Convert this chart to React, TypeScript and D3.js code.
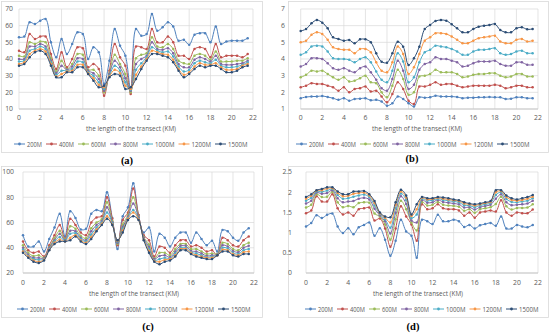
import React from 'react';
import * as d3 from 'd3';

const KM = [0,0.5,1,1.5,2,2.5,3,3.5,4,4.5,5,5.5,6,6.5,7,7.5,8,8.5,9,9.5,10,10.5,11,11.5,12,12.5,13,13.5,14,14.5,15,15.5,16,16.5,17,17.5,18,18.5,19,19.5,20,20.5,21,21.5];
const SERIES = ['200M','400M','600M','800M','1000M','1200M','1500M'];
const COLORS = ['#4F81BD','#C0504D','#9BBB59','#8064A2','#4BACC6','#F79646','#2C4D75'];
const X_TICKS = [0,2,4,6,8,10,12,14,16,18,20,22];
const A_TICKS = [10,20,30,40,50,60,70];
const B_TICKS = [1,2,3,4,5,6,7];
const C_TICKS = [20,40,60,80,100];
const D_TICKS = [0,0.5,1,1.5,2,2.5];
const X_TITLE = 'the length of the transect (KM)';

// Panel (a)
const a200 = [53,53.5,62,61,63,64,50,41,52,43,49,56,55,40,47,44,25,39,58,48,42,22,58,54,55,67,57,59,62,59.5,51,51.5,48.5,54.5,55.5,55.5,50,59.5,49,50.5,51,51,51,52.5];
const a400 = [45,44,55,52,53.5,53.5,43,34,44,35,40,47,46.5,35,37,34,18,33,49,41,36,19,47.5,47,46,58,50,50,53.5,50,42,42,40,46,47,46,41,49,41,42,42,42,41,43];
const a600 = [42,41.5,50,49,50.5,50,40.5,32.5,39,34,37,43,42.5,33.5,33.5,30,20,31.5,42.5,37,31,20,40.5,42.5,43.5,53,47.5,47,49,46,39,37.5,37,42,43,42,39.5,44.5,38.5,38.5,38.5,39,39,40.5];
const a800 = [40,40,47.5,47.5,49,47.5,39,31.5,36,33.5,35.5,40.5,40,33,31.5,28,21,31,39,35,28.5,21,37,40,42,50,46,45.5,46.5,43.5,37,35,35,39.5,41,40,38.5,42,37,36.5,36.5,37,37.5,39];
const a1000 = [38.5,39,45,46,47.5,46,38,30.5,33,33,34,38.5,38,32,30,26,22,30,36,33,26,21.5,33.5,37.5,41,47,45,44,44.5,41.5,35.5,32.5,33.5,37.5,39,38,37.5,39.5,36,35,35,35.5,36.5,38];
const a1200 = [37,38,43,45,46,44.5,37,29.5,31,32.5,33,36.5,36.5,31.5,28.5,24.5,23,29.5,33.5,31.5,24,22,30.5,35.5,40,45,44,43,42.5,39.5,34,30.5,32,35.5,37.5,36.5,36.5,37.5,35,33.5,33.5,34,36,37];
const a1500 = [36,37,41,44,45,43,36,29,29,32,32,35,35,31,27,23,24,29,31,30,22,23,28,34,39,43,43,42,41,38,33,29,31,34,36,35,36,36,34,32,32,33,35,36];

// Panel (b)
const b200 = [1.65,1.72,1.75,1.75,1.78,1.72,1.65,1.55,1.65,1.5,1.6,1.62,1.65,1.52,1.55,1.45,1.2,1.35,1.75,1.6,1.35,1.15,1.7,1.68,1.7,1.8,1.75,1.75,1.75,1.72,1.65,1.68,1.68,1.7,1.7,1.72,1.7,1.7,1.6,1.62,1.7,1.7,1.65,1.65];
const b400 = [2.3,2.4,2.55,2.5,2.5,2.4,2.3,2.1,2.3,2.0,2.2,2.25,2.35,2.05,2.1,1.75,1.4,1.9,2.6,2.2,1.5,1.3,2.35,2.35,2.45,2.6,2.45,2.5,2.5,2.4,2.3,2.35,2.4,2.4,2.4,2.4,2.45,2.4,2.25,2.3,2.4,2.4,2.3,2.3];
const b600 = [2.9,3.05,3.3,3.25,3.3,3.1,2.9,2.75,2.9,2.65,2.7,2.85,3.0,2.6,2.55,2.0,1.7,2.4,3.35,2.8,1.85,2.0,2.95,3.0,3.1,3.35,3.2,3.2,3.2,3.1,2.9,2.95,3.05,3.1,3.1,3.15,3.15,3.0,2.9,2.95,3.1,3.1,2.95,2.95];
const b800 = [3.55,3.7,4.05,4.05,4.0,3.75,3.45,3.35,3.45,3.3,3.2,3.45,3.55,3.2,2.75,2.25,2.1,2.8,3.9,3.3,2.2,2.45,3.35,3.7,3.8,4.1,4.0,4.0,3.9,3.8,3.55,3.6,3.75,3.85,3.85,3.85,3.9,3.7,3.6,3.6,3.8,3.8,3.65,3.65];
const b1000 = [4.25,4.4,4.75,4.8,4.75,4.45,4.05,4.0,4.0,3.95,3.8,4.0,4.1,3.8,3.25,2.75,2.6,3.3,4.35,3.85,2.6,2.9,3.8,4.4,4.55,4.8,4.75,4.7,4.6,4.45,4.25,4.25,4.45,4.55,4.55,4.6,4.65,4.35,4.25,4.3,4.45,4.5,4.35,4.35];
const b1200 = [5.0,5.1,5.45,5.6,5.5,5.15,4.7,4.6,4.55,4.55,4.35,4.6,4.6,4.4,3.8,3.3,3.2,3.8,4.75,4.3,3.1,3.5,4.3,5.1,5.3,5.55,5.55,5.5,5.35,5.15,4.95,4.95,5.1,5.25,5.3,5.35,5.4,5.05,4.95,4.95,5.15,5.2,5.05,5.1];
const b1500 = [5.68,5.8,6.14,6.34,6.18,5.84,5.3,5.2,5.1,5.14,4.94,5.18,5.18,5.0,4.34,3.84,3.78,4.34,5.04,4.74,3.64,4.04,4.74,5.8,6.04,6.28,6.34,6.3,6.08,5.84,5.6,5.6,5.8,5.94,6.0,6.04,6.1,5.74,5.6,5.6,5.84,5.9,5.78,5.8];

// Panel (c)
const c200 = [50,41,41,45,37,47,56,67,49,69,63.5,54.5,55,67,70,69,84,63.5,39,65,72,91,66,52,56,37,51,48,41,48,52,52,44,52,47,42,45.5,37,54,53,48,45.5,52,55.5];
const c400 = [45,38,36,37,33,42,50,58,47,63,58,52,50,60,64,65,80,63,42,62,68,87,66,50,46,33,41,40,36,42,46,46,41,42,40,37,38,34,48,46,42,41,46,49];
const c600 = [42,36,33.5,34,32,40.5,47.5,53.5,46.5,57,55,49.5,47.5,55.5,60,62.5,76,61,43,58.5,66,80,64.5,48.5,42.5,31.5,36,36,34,39,43,43,39,39,37,35,35.5,35,44,43,39,38,42,44];
const c800 = [40,34.5,32,32,31.5,40,46,51,46,53.5,53,48,46,53,58,61,72,60,44,56.5,64.5,75,64,48,40.5,31,33.5,34,32.5,37,41.5,41.5,37.5,37,35.5,33.5,34,34.5,42,41,37.5,36.5,40,41.5];
const c1000 = [38.5,33.5,31,30.5,31,39,45,48.5,45.5,51,51.5,47,45,50.5,56,60,68,59.5,45,55,63.5,70,63,47,39,30,31,32,31.5,35.5,40,40,36.5,35.5,34,32.5,33,34,40,39.5,36,35,38,39];
const c1200 = [37,33,30,29,30.5,38.5,44,46.5,45,48,50,46,44,48.5,54.5,59,65,58.5,45.5,53.5,63,68,62.5,46.5,37.5,29.5,29,30.5,31,34,39,39,36,34,33,32,32,34,38.5,38,35,34,36.5,37];
const c1500 = [36,32,29,28,30,38,43,45,45,46,49,45,43,47,53,58,63,58,46,52,62,65,62,46,36,29,27,29,30,33,38,38,35,33,32,31,31,34,37,37,34,33,35,35];

// Panel (d)
const d200 = [1.15,1.24,1.43,1.36,1.44,1.47,1.15,0.99,1.11,0.96,1.13,1.19,1.25,0.92,1.11,0.82,0.43,0.8,1.32,1.03,0.92,0.38,1.32,1.28,1.21,1.44,1.28,1.28,1.32,1.28,1.14,1.19,1.1,1.18,1.21,1.24,1.17,1.4,1.1,1.1,1.19,1.15,1.13,1.19];
const d400 = [1.48,1.55,1.9,1.77,1.77,1.95,1.6,1.45,1.5,1.42,1.58,1.6,1.62,1.3,1.35,1.1,0.65,1.1,1.65,1.4,1.2,0.8,1.7,1.58,1.6,1.7,1.6,1.58,1.58,1.55,1.42,1.5,1.37,1.5,1.52,1.55,1.52,1.8,1.5,1.42,1.5,1.48,1.48,1.57];
const d600 = [1.62,1.69,1.95,1.88,1.89,2.01,1.75,1.63,1.66,1.63,1.73,1.75,1.74,1.47,1.4,1.2,0.82,1.33,1.79,1.58,1.25,1.05,1.76,1.67,1.69,1.76,1.69,1.67,1.66,1.64,1.54,1.58,1.49,1.58,1.6,1.63,1.71,1.89,1.65,1.57,1.61,1.61,1.62,1.7];
const d800 = [1.72,1.79,1.99,1.96,1.98,2.05,1.85,1.75,1.77,1.78,1.84,1.86,1.82,1.59,1.43,1.28,0.98,1.49,1.9,1.71,1.3,1.25,1.81,1.74,1.75,1.81,1.76,1.74,1.72,1.7,1.62,1.63,1.57,1.63,1.66,1.69,1.84,1.95,1.75,1.68,1.69,1.7,1.72,1.79];
const d1000 = [1.79,1.86,2.02,2.01,2.04,2.08,1.93,1.84,1.85,1.89,1.92,1.94,1.88,1.67,1.46,1.33,1.12,1.61,1.97,1.81,1.36,1.45,1.84,1.79,1.8,1.84,1.81,1.79,1.77,1.75,1.68,1.67,1.63,1.67,1.7,1.73,1.93,2.0,1.83,1.76,1.75,1.77,1.79,1.85];
const d1200 = [1.84,1.91,2.04,2.05,2.09,2.1,1.98,1.9,1.91,1.96,1.98,1.99,1.92,1.73,1.48,1.37,1.25,1.69,2.02,1.87,1.41,1.58,1.86,1.82,1.83,1.86,1.84,1.82,1.8,1.78,1.72,1.7,1.67,1.7,1.73,1.76,2.0,2.03,1.88,1.81,1.79,1.81,1.84,1.89];
const d1500 = [1.88,1.95,2.05,2.08,2.12,2.12,2.02,1.95,1.95,2.02,2.02,2.03,1.95,1.78,1.5,1.4,1.38,1.75,2.06,1.92,1.45,1.7,1.88,1.85,1.85,1.88,1.87,1.85,1.82,1.8,1.75,1.72,1.7,1.72,1.75,1.78,2.05,2.05,1.92,1.85,1.82,1.85,1.88,1.93];

type Cfg = {
  label: string;
  series: number[][];
  ticks: number[];
  x0: number; x1: number; yt: number; yb: number;
  box: [number, number, number, number];
  yLabelX: number;
  xLabelY: number;
  titleX: number; titleY: number;
  legendX: number; legendY: number;
  tagX: number; tagY: number;
};

const PANELS: Cfg[] = [
  { label: '(a)', series: [a200, a400, a600, a800, a1000, a1200, a1500], ticks: A_TICKS,
    x0: 19, x1: 253, yt: 9, yb: 109, box: [1, 1, 262, 152], yLabelX: 13, xLabelY: 120,
    titleX: 131, titleY: 131, legendX: 14, legendY: 144, tagX: 127, tagY: 164 },
  { label: '(b)', series: [b200, b400, b600, b800, b1000, b1200, b1500], ticks: B_TICKS,
    x0: 300.7, x1: 538, yt: 9, yb: 109, box: [288, 1, 548, 152], yLabelX: 285, xLabelY: 120,
    titleX: 417, titleY: 131, legendX: 296, legendY: 144, tagX: 412, tagY: 162 },
  { label: '(c)', series: [c200, c400, c600, c800, c1000, c1200, c1500], ticks: C_TICKS,
    x0: 23, x1: 254, yt: 172, yb: 273, box: [1, 166, 262, 317], yLabelX: 14, xLabelY: 285,
    titleX: 134, titleY: 296, legendX: 17, legendY: 309, tagX: 148, tagY: 330 },
  { label: '(d)', series: [d200, d400, d600, d800, d1000, d1200, d1500], ticks: D_TICKS,
    x0: 306, x1: 538, yt: 172, yb: 273, box: [288, 166, 548, 317], yLabelX: 292, xLabelY: 285,
    titleX: 418, titleY: 296, legendX: 305, legendY: 309, tagX: 413, tagY: 330 },
];

const FONT = "'Open Sans', 'Liberation Sans', sans-serif";
const GRID = '#d9d9d9';
const TXT = '#595959';

function Panel({ cfg }: { cfg: Cfg }) {
  const domain = d3.extent(cfg.ticks) as [number, number];
  const x = d3.scaleLinear().domain([0, 22]).range([cfg.x0, cfg.x1]);
  const y = d3.scaleLinear().domain(domain).range([cfg.yb, cfg.yt]);
  const line = d3
    .line<number>()
    .x((_, i) => x(KM[i]))
    .y((v) => y(v))
    .curve(d3.curveCatmullRom.alpha(0.5));

  // legend layout
  const items: { x: number; w: number }[] = [];
  let lx = cfg.legendX;
  SERIES.forEach((s) => {
    const w = s.length === 4 ? 15 : 19.5;
    items.push({ x: lx, w });
    lx += 13 + w + 4;
  });

  const [bx0, by0, bx1, by1] = cfg.box;
  return (
    <g>
      <rect x={bx0 + 0.5} y={by0 + 0.5} width={bx1 - bx0} height={by1 - by0} fill="#fff" stroke={GRID} strokeWidth={0.8} />
      {cfg.ticks.map((t) => (
        <line key={'h' + t} x1={cfg.x0} x2={cfg.x1} y1={y(t)} y2={y(t)} stroke={GRID} strokeWidth={0.7} />
      ))}
      {X_TICKS.map((t) => (
        <line key={'v' + t} x1={x(t)} x2={x(t)} y1={cfg.yt} y2={cfg.yb} stroke={GRID} strokeWidth={0.7} />
      ))}
      <line x1={cfg.x0} x2={cfg.x1} y1={cfg.yb} y2={cfg.yb} stroke="#bfbfbf" strokeWidth={0.8} />
      {cfg.ticks.map((t) => (
        <text key={'yl' + t} x={cfg.yLabelX} y={y(t) + 2.4} fontSize={6.8} fill={TXT} textAnchor="end" fontFamily={FONT}>
          {String(t)}
        </text>
      ))}
      {X_TICKS.map((t) => (
        <text key={'xl' + t} x={x(t)} y={cfg.xLabelY} fontSize={6.8} fill={TXT} textAnchor="middle" fontFamily={FONT}>
          {String(t)}
        </text>
      ))}
      <text x={cfg.titleX} y={cfg.titleY} fontSize={7.6} fill={TXT} textAnchor="middle" fontFamily={FONT}
        textLength={90} lengthAdjust="spacingAndGlyphs">
        {X_TITLE}
      </text>
      {cfg.series.map((vals, si) => (
        <g key={'s' + si}>
          <path d={line(vals) || ''} fill="none" stroke={COLORS[si]} strokeWidth={1} />
          {vals.map((v, i) => (
            <circle key={i} cx={x(KM[i])} cy={y(v)} r={1.25} fill={COLORS[si]} />
          ))}
        </g>
      ))}
      {SERIES.map((s, si) => (
        <g key={'lg' + s}>
          <line x1={items[si].x} x2={items[si].x + 11} y1={cfg.legendY} y2={cfg.legendY} stroke={COLORS[si]} strokeWidth={1} />
          <circle cx={items[si].x + 5.5} cy={cfg.legendY} r={1.4} fill={COLORS[si]} />
          <text x={items[si].x + 13} y={cfg.legendY + 2.5} fontSize={7} fill={TXT} fontFamily={FONT}
            textLength={items[si].w} lengthAdjust="spacingAndGlyphs">
            {s}
          </text>
        </g>
      ))}
      <text x={cfg.tagX} y={cfg.tagY} fontSize={10.5} fontWeight="bold" textAnchor="middle"
        fontFamily="'Liberation Serif', 'DejaVu Serif', serif" fill="#000">
        {cfg.label}
      </text>
    </g>
  );
}

export default function App() {
  return (
    <svg width={550} height={333} viewBox="0 0 550 333" style={{ position: 'absolute', left: 0, top: 0, background: '#fff' }}>
      <rect x={0} y={0} width={550} height={333} fill="#fff" />
      {PANELS.map((p) => (
        <Panel key={p.label} cfg={p} />
      ))}
    </svg>
  );
}
